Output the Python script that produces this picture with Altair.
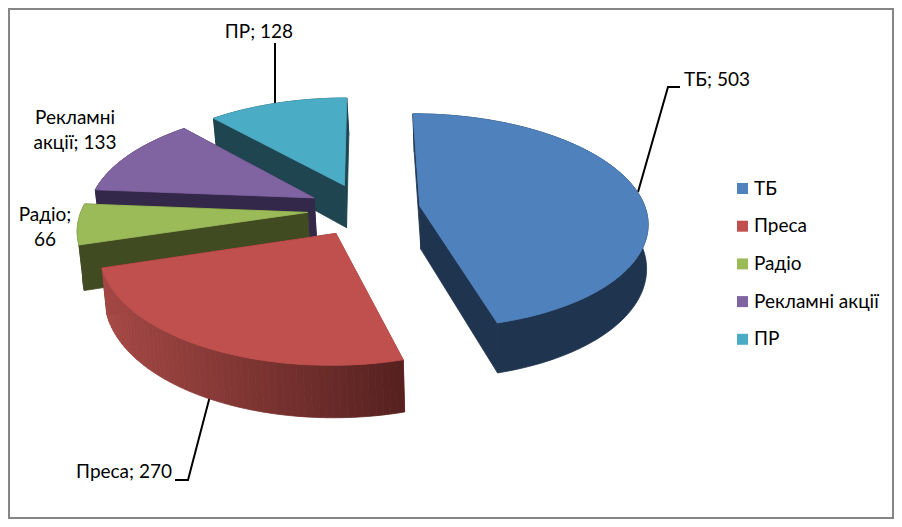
import math
import altair as alt

categories = ["ТБ", "Преса", "Радіо", "Рекламні акції", "ПР"]
values = [503, 270, 66, 133, 128]
top_colors = ["#4f81bd", "#c0504d", "#9bbb59", "#8064a2", "#4bacc6"]
wall_left = ["#1f344f", "#a54845", "#414b22", "#33274a", "#1e4550"]
wall_right = ["#1f344f", "#55211f", "#414b22", "#33274a", "#1e4550"]
paint_order = [4, 3, 2, 1, 0]

# perspective pie layout (page pixels, shifted by the 8px page margin)
OX, OY = 8, 8
VX, VY, RX, RY, PERSP, EXPLODE, DEPTH = 364, 209.5, 226, 106, 0.14, 0.25, 43.5
BOTTOM_X, BOTTOM_SHRINK = 520, 0.012

total = sum(values)
starts, acc = [], 0
for v in values:
    starts.append(acc / total * 2 * math.pi)
    acc += v
ends = starts[1:] + [2 * math.pi]


def project(X, Y, bottom=False):
    k = 1 / (1 + PERSP * Y)
    x = VX + RX * X * k
    y = VY - RY * Y * k
    if bottom:
        x = x + (BOTTOM_X - x) * BOTTOM_SHRINK
        y = y + DEPTH * k
    return [round(x - OX, 2), round(y - OY, 2)]


def feature(ring, fill, name):
    ring = ring + [ring[0]]
    return {"type": "Feature",
            "geometry": {"type": "Polygon", "coordinates": [ring]},
            "properties": {"fill": fill, "name": name}}


def mix(c1, c2, t):
    a = [int(c1[i:i + 2], 16) for i in (1, 3, 5)]
    b = [int(c2[i:i + 2], 16) for i in (1, 3, 5)]
    return "#" + "".join(f"{round(p + (q - p) * t):02x}" for p, q in zip(a, b))


top_features, painted = [], []
for i in paint_order:
    a1, a2 = starts[i], ends[i]
    m = (a1 + a2) / 2
    X0, Y0 = EXPLODE * math.sin(m), EXPLODE * math.cos(m)
    n = max(4, int((a2 - a1) / math.radians(1.5)))
    angs = [a1 + (a2 - a1) * j / n for j in range(n + 1)]
    pts = [(X0 + math.sin(a), Y0 + math.cos(a)) for a in angs]
    name = categories[i]
    top = feature([project(X0, Y0)] + [project(*p) for p in pts], top_colors[i], name)
    top_features.append(top)

    walls = []
    xs = [project(*p)[0] for p in pts]
    lo, hi = min(xs), max(xs)
    for (X, Y), c in (((pts[0]), wall_left[i]), ((pts[-1]), wall_right[i])):
        ring = [project(X0, Y0), project(X, Y), project(X, Y, True), project(X0, Y0, True)]
        walls.append(((Y + Y0) / 2, feature(ring, c, name)))
    if wall_left[i] == wall_right[i]:
        # a single-colour rim is one polygon, so no seams show
        ring = [project(*p) for p in pts] + [project(*p, True) for p in reversed(pts)]
        walls.append(((pts[n // 2][1]), feature(ring, wall_left[i], name)))
    else:
        for j in range(n):
            p, q = pts[j], pts[j + 1]
            t = ((project(*p)[0] + project(*q)[0]) / 2 - lo) / max(hi - lo, 1)
            ring = [project(*p), project(*q), project(*q, True), project(*p, True)]
            walls.append(((p[1] + q[1]) / 2, feature(ring, mix(wall_left[i], wall_right[i], t), name)))
    walls.sort(key=lambda w: -w[0])
    painted += [w[1] for w in walls] + [top]

PROJ = dict(type="identity", scale=1, translate=[0, 0])

legend_layer = alt.Chart(alt.Data(values=top_features)).mark_geoshape(strokeWidth=0).encode(
    color=alt.Color("properties.name:N",
                    scale=alt.Scale(domain=categories, range=top_colors),
                    legend=alt.Legend(title=None, orient="none", legendX=725, legendY=171,
                                      symbolType="square", symbolSize=121, symbolStrokeWidth=0,
                                      labelFont="Lato", labelFontSize=19, labelColor="#000000",
                                      labelOffset=2, rowPadding=17.7, labelLimit=200))
).project(**PROJ)

pie_layer = alt.Chart(alt.Data(values=painted)).mark_geoshape(strokeWidth=0.8).encode(
    color=alt.Color("properties.fill:N", scale=None),
    stroke=alt.Stroke("properties.fill:N", scale=None),
).project(**PROJ)

frame = alt.Chart(alt.Data(values=[{"a": 1}])).mark_rect(
    fill="#ffffff", stroke="#868686", strokeWidth=2
).encode(x=alt.value(1), x2=alt.value(885), y=alt.value(1), y2=alt.value(510))

# data labels and leader lines
label_text = ["ТБ; 503", "Преса; 270", "Радіо;\n66", "Рекламні\nакції; 133", "ПР; 128"]
label_x = [717, 124, 45, 75, 259]
label_y = [80, 472, 215, 118, 32]
labels = alt.Chart(alt.Data(values=[
    {"t": t, "x": x - OX, "y": y - OY} for t, x, y in zip(label_text, label_x, label_y)
])).mark_text(font="Lato", fontSize=19, color="#000000", lineBreak="\n", lineHeight=25,
              align="center", baseline="middle").encode(
    x=alt.X("x:Q", scale=None), y=alt.Y("y:Q", scale=None), text="t:N")

leader_rows = []
for name, path in (("ТБ", [(680, 87), (668, 87), (638, 192)]),
                   ("Преса", [(175, 480), (188, 480), (210, 396)]),
                   ("ПР", [(275, 43), (275, 105)])):
    for o, (x, y) in enumerate(path):
        leader_rows.append({"s": name, "o": o, "x": x - OX, "y": y - OY})
leaders = alt.Chart(alt.Data(values=leader_rows)).mark_line(color="#000000", strokeWidth=2).encode(
    x=alt.X("x:Q", scale=None), y=alt.Y("y:Q", scale=None),
    detail="s:N", order="o:Q")

chart = alt.layer(frame, leaders, legend_layer, pie_layer, labels).resolve_scale(
    color="independent", stroke="independent"
).properties(width=886, height=511, padding=0,
             autosize=alt.AutoSizeParams(type="none")).configure_view(stroke=None)

chart.save("out.html", embed_options={"renderer": "svg", "actions": False})
